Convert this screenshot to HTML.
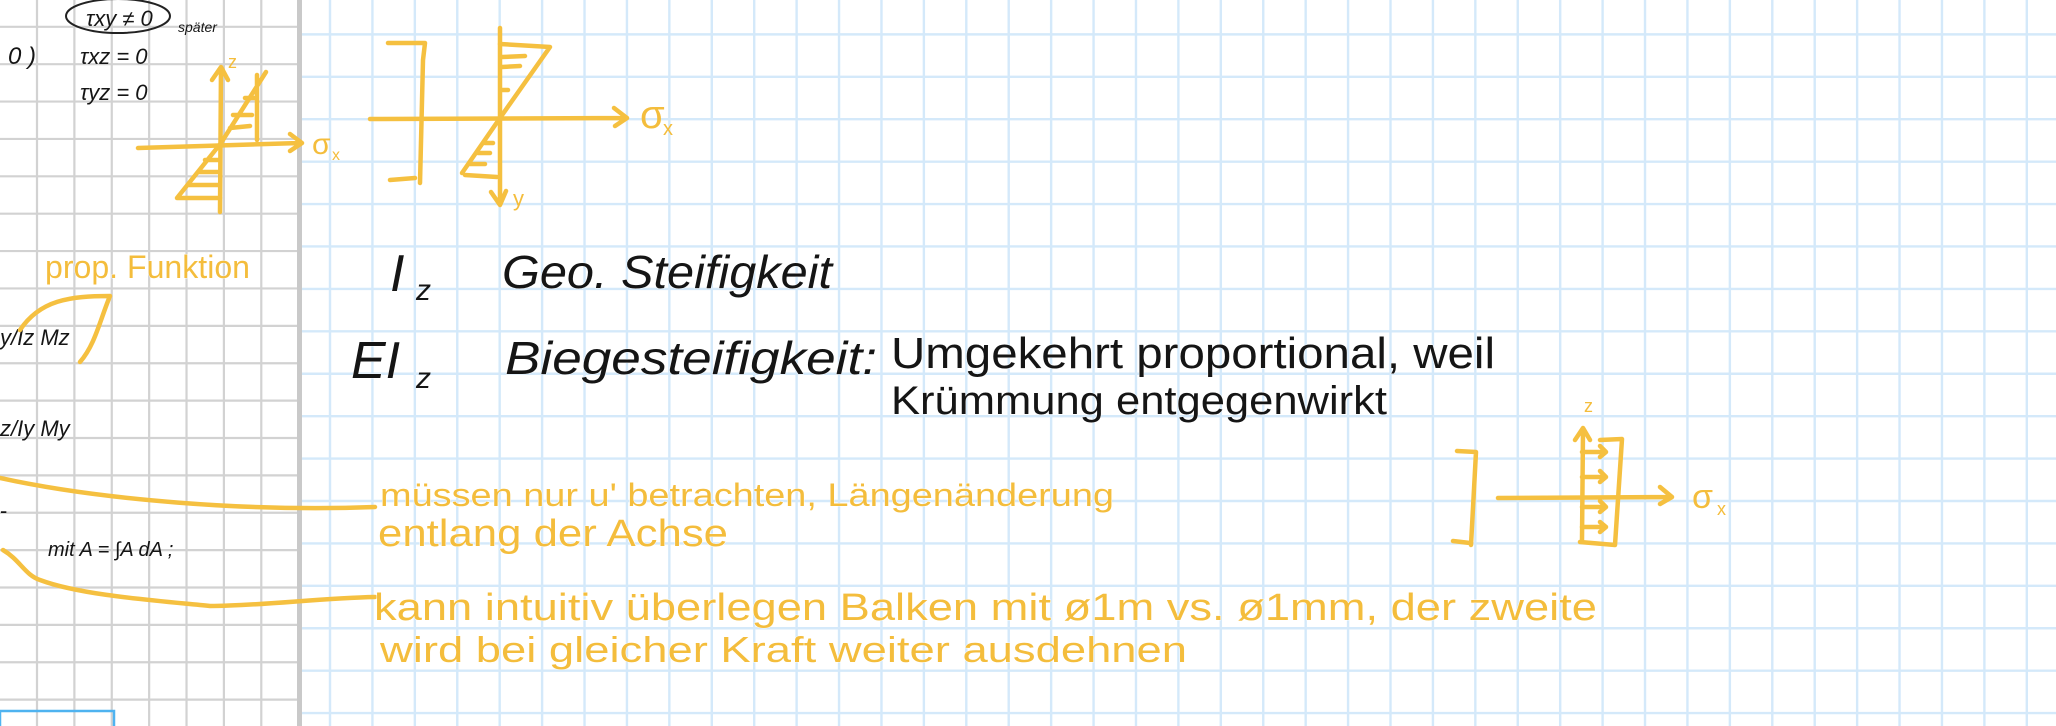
<!DOCTYPE html>
<html><head><meta charset="utf-8"><style>
html,body{margin:0;padding:0;background:#fff;width:2056px;height:726px;overflow:hidden}
svg{display:block}
text{font-family:"Liberation Sans","DejaVu Sans",sans-serif}
.k{fill:#151515}
.o{fill:#f4bd3c}
.ol{stroke:#f5c040;stroke-width:4.5;fill:none;stroke-linecap:round;stroke-linejoin:round}
.thin{stroke:#fff;stroke-width:0.8;paint-order:stroke}
</style></head><body>
<svg id="page" width="2056" height="726" viewBox="0 0 2056 726" xmlns="http://www.w3.org/2000/svg">
<rect width="2056" height="726" fill="#fff"/>
<g id="leftgrid"></g>
<g id="rightgrid"></g>
<rect x="297" y="0" width="5" height="726" fill="#c9c9c9"/>
<rect x="0" y="711" width="114" height="20" fill="none" stroke="#4fb3f0" stroke-width="2.5"/>

<g>
<ellipse cx="118" cy="16" rx="52" ry="17" fill="none" stroke="#222" stroke-width="2"/>
<text class="k" x="86" y="26" font-size="22" font-style="italic">τxy ≠ 0</text>
<text class="k" x="178" y="32" font-size="14" font-style="italic">später</text>
<text class="k" x="8" y="64" font-size="24" font-style="italic">0 )</text>
<text class="k" x="80" y="64" font-size="22" font-style="italic">τxz = 0</text>
<text class="k" x="80" y="100" font-size="22" font-style="italic">τyz = 0</text>
<text class="k" x="0" y="345" font-size="22" font-style="italic">y/Iz  Mz</text>
<text class="k" x="0" y="436" font-size="22" font-style="italic">z/Iy  My</text>
<text class="k" x="0" y="518" font-size="22">-</text>
<text class="k" x="48" y="556" font-size="20" font-style="italic">mit  A = ∫A  dA ;</text>
</g>
<text class="o thin" x="45" y="278" font-size="32" textLength="205" lengthAdjust="spacingAndGlyphs">prop. Funktion</text>
<path class="ol" d="M20,330 C40,300 70,296 110,296 C100,320 95,345 80,362"/>
<path class="ol" d="M0,478 C100,500 250,512 375,507"/>
<path class="ol" d="M3,550 C20,560 25,575 40,580 C80,595 150,600 210,606 C260,606 320,598 375,597"/>

<g>
<path class="ol" d="M138,148 L300,143 M290,134 L302,143 L290,151"/>
<path class="ol" d="M220,212 L221,68 M212,80 L221,67 L228,80"/>
<path class="ol" d="M221,143 L266,72 M257,75 L257,140 M230,128 L250,126 M233,115 L252,115 M245,98 L256,98"/>
<path class="ol" d="M221,143 L177,198 L220,198 M188,185 L218,185 M198,172 L218,172 M205,160 L218,160"/>
<text class="o" x="228" y="68" font-size="18">z</text>
<text class="o" x="312" y="154" font-size="30">σ</text><text class="o" x="332" y="160" font-size="16">x</text>
</g>

<g>
<path class="ol" d="M388,43 L425,43 L423,60 L420,183 M390,180 L415,178"/>
<path class="ol" d="M370,119 L627,118 M614,108 L627,118 L615,126"/>
<path class="ol" d="M500,28 L500,200 M491,192 L500,205 L506,191"/>
<path class="ol" d="M500,44 L550,47 L500,118 M502,57 L525,56 M502,67 L520,66 M502,90 L508,90"/>
<path class="ol" d="M500,118 L462,173 M465,175 L497,177 M470,164 L485,164 M478,153 L490,153 M485,143 L493,143"/>
<text class="o" x="640" y="128" font-size="40">σ</text><text class="o" x="663" y="135" font-size="20">x</text>
<text class="o" x="513" y="206" font-size="22">y</text>
</g>

<g>
<path class="ol" d="M1457,451 L1476,452 L1471,545 M1453,541 L1470,543"/>
<path class="ol" d="M1498,498 L1672,497 M1660,487 L1672,497 L1660,504"/>
<path class="ol" d="M1582,540 L1583,430 M1575,440 L1583,428 L1590,440"/>
<path class="ol" d="M1600,440 L1622,439 L1615,545 L1580,542"/>
<path class="ol" d="M1582,452 L1606,452 M1600,446 L1606,452 L1600,457 M1582,477 L1606,477 M1600,471 L1606,477 L1600,482 M1582,507 L1606,507 M1600,501 L1606,507 L1600,512 M1582,527 L1606,527 M1600,522 L1606,527 L1600,532"/>
<text class="o" x="1584" y="412" font-size="18">z</text>
<text class="o" x="1692" y="508" font-size="34">σ</text><text class="o" x="1717" y="515" font-size="18">x</text>
</g>

<g>
<text class="k thin" x="390" y="291" font-size="52" font-style="italic">I</text>
<text class="k" x="416" y="300" font-size="30" font-style="italic">z</text>
<text class="k thin" x="502" y="288" font-size="46" font-style="italic" textLength="330" lengthAdjust="spacingAndGlyphs">Geo. Steifigkeit</text>
<text class="k thin" x="351" y="378" font-size="52" font-style="italic">EI</text>
<text class="k" x="416" y="388" font-size="30" font-style="italic">z</text>
<text class="k thin" x="505" y="374" font-size="46" font-style="italic" textLength="372" lengthAdjust="spacingAndGlyphs">Biegesteifigkeit:</text>
<text class="k thin" x="891" y="368" font-size="44" textLength="604" lengthAdjust="spacingAndGlyphs">Umgekehrt proportional, weil</text>
<text class="k thin" x="891" y="414" font-size="40" textLength="496" lengthAdjust="spacingAndGlyphs">Krümmung entgegenwirkt</text>
</g>

<g>
<text class="o thin" x="380" y="506" font-size="32" textLength="734" lengthAdjust="spacingAndGlyphs">müssen nur u' betrachten, Längenänderung</text>
<text class="o thin" x="378" y="546" font-size="38" textLength="350" lengthAdjust="spacingAndGlyphs">entlang der Achse</text>
<text class="o thin" x="374" y="620" font-size="38" textLength="1223" lengthAdjust="spacingAndGlyphs">kann intuitiv überlegen Balken mit ø1m vs. ø1mm, der zweite</text>
<text class="o thin" x="380" y="662" font-size="36" textLength="807" lengthAdjust="spacingAndGlyphs">wird bei gleicher Kraft weiter ausdehnen</text>
</g>
</svg>
<script>
var NS='http://www.w3.org/2000/svg';
function ln(g,x1,y1,x2,y2,c,w){var l=document.createElementNS(NS,'line');
l.setAttribute('x1',x1);l.setAttribute('y1',y1);l.setAttribute('x2',x2);l.setAttribute('y2',y2);
l.setAttribute('stroke',c);l.setAttribute('stroke-width',w);


g.appendChild(l);}
var lg=document.getElementById('leftgrid'), rg=document.getElementById('rightgrid');
var s1=37.38;
for(var x=37;x<297;x+=s1) ln(lg,x,0,x,726,'#d2d2d2',2.2);
for(var y=26.8-s1;y<726;y+=s1) ln(lg,0,y,297,y,'#d2d2d2',2.2);
var s2=42.42;
for(var x=1814.7;x>302;x-=s2) ln(rg,x,0,x,726,'#d4e9fa',2.4);
for(var x=1814.7+s2;x<2056;x+=s2) ln(rg,x,0,x,726,'#d4e9fa',2.4);
for(var y=501;y>-5;y-=s2) ln(rg,302,y,2056,y,'#d4e9fa',2.4);
for(var y=501+s2;y<726;y+=s2) ln(rg,302,y,2056,y,'#d4e9fa',2.4);
</script>
</body></html>
